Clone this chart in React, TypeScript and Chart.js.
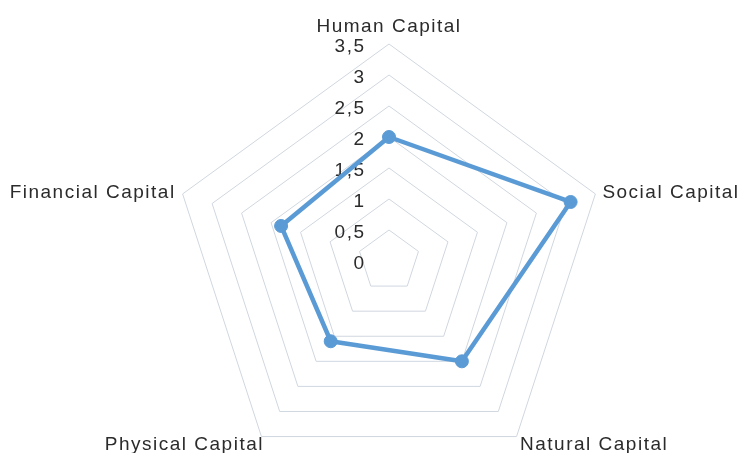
import { useEffect, useRef } from 'react';
import { Chart, registerables } from 'chart.js';

Chart.register(...registerables);

const categories = ['Human Capital', 'Social Capital', 'Natural Capital', 'Physical Capital', 'Financial Capital'];
const seriesValues = [2, 3.08, 2, 1.6, 1.83];
const tickLabels = ['0', '0,5', '1', '1,5', '2', '2,5', '3', '3,5'];

const FONT = '19px "Liberation Sans", Arial, sans-serif';
const SPACING = '1.5px';
const TEXT_COLOR = '#2b2b2b';
const LINE_COLOR = '#5b9bd5';
const GRID_COLOR = 'rgb(208,215,223)';

// offsets of each category label from its outer vertex
const labelPlacement: { dx: number; dy: number; align: CanvasTextAlign }[] = [
  { dx: 0, dy: -12, align: 'center' },
  { dx: 7, dy: 4, align: 'left' },
  { dx: 3.5, dy: 13.5, align: 'left' },
  { dx: 2.5, dy: 13.5, align: 'right' },
  { dx: -7, dy: 4, align: 'right' },
];

const tickLabelPlugin = {
  id: 'tickLabelPlugin',
  beforeDatasetsDraw(chart: any) {
    const scale = chart.scales.r;
    const ctx = chart.ctx as CanvasRenderingContext2D;
    ctx.save();
    ctx.font = FONT;
    ctx.fillStyle = TEXT_COLOR;
    ctx.textBaseline = 'alphabetic';
    ctx.textAlign = 'right';
    (ctx as any).letterSpacing = SPACING;
    scale.ticks.forEach((t: any) => {
      const r = scale.getDistanceFromCenterForValue(t.value);
      ctx.fillText(String(t.label), scale.xCenter - 23.5, scale.yCenter - r + 8);
    });
    ctx.restore();
  },
};

const pointLabelPlugin = {
  id: 'pointLabelPlugin',
  afterDraw(chart: any) {
    const scale = chart.scales.r;
    const ctx = chart.ctx as CanvasRenderingContext2D;
    ctx.save();
    ctx.font = FONT;
    ctx.fillStyle = TEXT_COLOR;
    ctx.textBaseline = 'alphabetic';
    (ctx as any).letterSpacing = SPACING;
    (chart.data.labels as string[]).forEach((lbl, i) => {
      const p = scale.getPointPosition(i, scale.drawingArea);
      const pl = labelPlacement[i];
      ctx.textAlign = pl.align;
      ctx.fillText(lbl, p.x + pl.dx, p.y + pl.dy);
    });
    ctx.restore();
  },
};

export default function App() {
  const ref = useRef<HTMLCanvasElement | null>(null);

  useEffect(() => {
    if (!ref.current) return;
    const chart = new Chart(ref.current, {
      type: 'radar',
      data: {
        labels: categories,
        datasets: [
          {
            label: 'Series1',
            data: seriesValues,
            borderColor: LINE_COLOR,
            backgroundColor: LINE_COLOR,
            borderWidth: 4.5,
            fill: false,
            tension: 0,
            borderJoinStyle: 'round',
            borderCapStyle: 'round',
            pointRadius: 6.5,
            pointBorderWidth: 1,
            pointBackgroundColor: LINE_COLOR,
            pointBorderColor: LINE_COLOR,
          },
        ],
      },
      options: {
        animation: false,
        responsive: true,
        maintainAspectRatio: false,
        layout: { padding: 0 },
        plugins: {
          legend: { display: false },
          tooltip: { enabled: false },
        },
        scales: {
          r: {
            min: 0,
            max: 3.5,
            beginAtZero: true,
            angleLines: { display: false },
            grid: { color: GRID_COLOR, lineWidth: 1, circular: false },
            pointLabels: { display: false },
            ticks: {
              display: false,
              stepSize: 0.5,
              callback: (_v: any, i: number) => tickLabels[i],
            },
            afterFit: (scale: any) => {
              scale.xCenter = 389;
              scale.yCenter = 261;
              scale.drawingArea = 217;
            },
          },
        },
      },
      plugins: [tickLabelPlugin, pointLabelPlugin],
    });
    return () => chart.destroy();
  }, []);

  return (
    <div style={{ position: 'absolute', left: 0, top: 0, width: 744, height: 453 }}>
      <canvas ref={ref} />
    </div>
  );
}
